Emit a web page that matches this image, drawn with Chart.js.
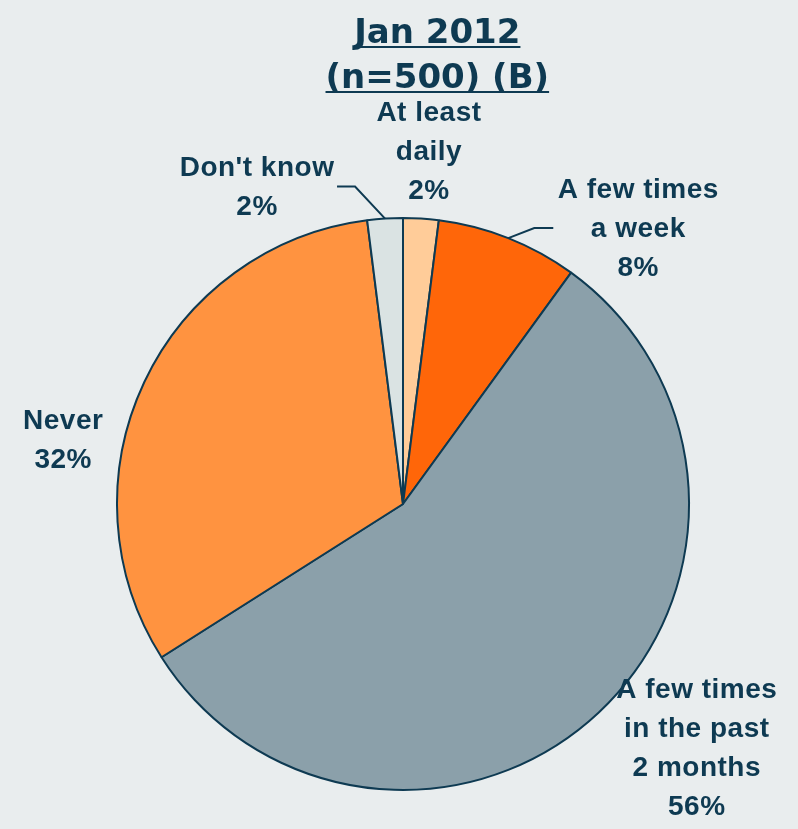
<!DOCTYPE html>
<html>
<head>
<meta charset="utf-8">
<script src="https://cdn.jsdelivr.net/npm/chart.js@4.4.1/dist/chart.umd.min.js"></script>
<style>
    body { margin: 0; background: #E9EDEE; }
    #wrap { width: 798px; height: 829px; }
</style>
</head>
<body>
<div id="wrap"><canvas id="freqPie" width="798" height="829"></canvas></div>
<script>
// data (percent, clockwise from 12 o'clock)
const categories = [
    "At least daily",
    "A few times a week",
    "A few times in the past 2 months",
    "Never",
    "Don't know",
];
const shares = [2, 8, 56, 32, 2];
// how each label is broken into lines on the chart
const labelLines = [
    ["At least", "daily"],
    ["A few times", "a week"],
    ["A few times", "in the past", "2 months"],
    ["Never"],
    ["Don't know"],
];
const titleLines = ["Jan 2012", "(n=500) (B)"];

const navy = "#0E3A52";
const sliceColors = [
    "#FFCC99", // at least daily
    "#FF6609", // few times a week
    "#8BA0AA", // past 2 months
    "#FF9340", // never
    "#DAE3E3", // don't know
];

// label placement relative to the slice's mid point on the rim
const labelLayout = [
    { dx: 8, dy: -98 },
    { dx: 130, dy: -40, leader: [[26, -10], [45, -10]] },
    { dx: 98, dy: -14 },
    { dx: -81, dy: 47 },
    { dx: -128, dy: -43, leader: [[-30, -32], [-48, -32]] },
];

const bgPlugin = {
    id: "bg",
    beforeDraw(chart) {
        const ctx = chart.ctx;
        ctx.save();
        ctx.fillStyle = "#E9EDEE";
        ctx.fillRect(0, 0, chart.width, chart.height);
        ctx.restore();
    },
};

const labelPlugin = {
    id: "sliceLabels",
    afterDraw(chart) {
        const ctx = chart.ctx;
        const arcs = chart.getDatasetMeta(0).data;

        ctx.save();
        // title, underlined
        ctx.fillStyle = navy;
        ctx.strokeStyle = navy;
        ctx.font = "bold 34px 'DejaVu Sans'";
        ctx.textAlign = "center";
        ctx.textBaseline = "alphabetic";
        const tx = chart.width * 0.548;
        titleLines.forEach((t, i) => {
            const y = 43 + i * 45;
            ctx.fillText(t, tx, y);
            const w = ctx.measureText(t).width;
            ctx.lineWidth = 2;
            ctx.beginPath();
            ctx.moveTo(tx - w / 2, y + 4);
            ctx.lineTo(tx + w / 2, y + 4);
            ctx.stroke();
        });

        ctx.font = "bold 28px 'Liberation Sans', Arial, sans-serif";
        ctx.letterSpacing = "0.5px";
        arcs.forEach((arc, i) => {
            const mid = (arc.startAngle + arc.endAngle) / 2;
            const ex = arc.x + Math.cos(mid) * arc.outerRadius;
            const ey = arc.y + Math.sin(mid) * arc.outerRadius;
            const lay = labelLayout[i];

            if (lay.leader) {
                ctx.lineWidth = 2;
                ctx.beginPath();
                ctx.moveTo(ex, ey);
                lay.leader.forEach(p => ctx.lineTo(ex + p[0], ey + p[1]));
                ctx.stroke();
            }

            const lines = labelLines[i].concat([shares[i] + "%"]);
            lines.forEach((t, j) => {
                ctx.fillText(t, ex + lay.dx, ey + lay.dy + j * 39);
            });
        });
        ctx.restore();
    },
};

new Chart(document.getElementById("freqPie"), {
    type: "pie",
    data: {
        labels: categories,
        datasets: [{
            data: shares,
            backgroundColor: sliceColors,
            borderColor: navy,
            borderWidth: 2,
        }],
    },
    options: {
        responsive: false,
        animation: false,
        layout: {
            padding: { left: 116, right: 108, top: 217, bottom: 38 },
        },
        plugins: {
            legend: { display: false },
            title: { display: false },
            tooltip: { enabled: false },
        },
    },
    plugins: [bgPlugin, labelPlugin],
});
</script>
</body>
</html>
